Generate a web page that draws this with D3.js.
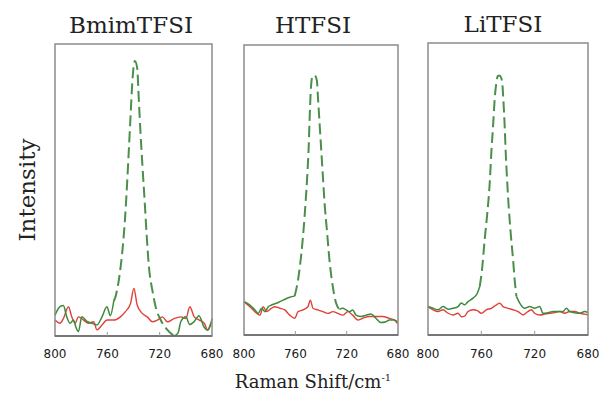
<!DOCTYPE html>
<html>
  <head>
    <meta charset='utf-8'>
    <script src='https://d3js.org/d3.v7.min.js'></script>
    <style>
body { margin: 0; background: #fff; }
.tick-label { font-family: 'DejaVu Sans', sans-serif; font-size: 12px; fill: #1a1a1a; }
.serif { font-family: 'DejaVu Serif', serif; fill: #222; }
    </style>
  </head>
  <body>
    <div id='chart'></div>
    <script>
        // ---- data (Raman shift cm-1, relative intensity) ----
        const titles = ['BmimTFSI', 'HTFSI', 'LiTFSI'];
        const xTicks = [800, 760, 720, 680];

        const bmimGreen = [[800,7.2],[796.2,10.1],[793.6,10.5],[791,6.6],[788.5,4.4],[785.9,5.5],[784,3],[782.1,1.5],
            [779.5,6.6],[775.6,5],[771.8,4.4],[767.9,3.8],[764.1,6.6],[760.3,10.1],[757.7,7],[755.1,12],[753.8,13.5],
            [750.5,21.5],[748.2,30.7],[746.4,41],[744.9,52.5],[743.6,63.9],[742.3,75.4],[741,86.8],[739,94.8],
            [737.2,92.5],[735.9,81.1],[734.6,69.7],[733.1,58.2],[731.5,46.7],[730,35.3],[728.2,23.8],[725.6,15.8],
            [723.1,10.1],[719.2,5.5],[714.1,2.1],[709,0],[706,1],[703.8,5],[700,6.6],[697,4],[693.6,5],[690,7],
            [686,3],[683.3,2],[681,4],[680,6]];
        const bmimRed = [[800,5.5],[796.2,4.4],[793.6,6],[789.7,10.1],[787.2,6.6],[784.6,4.4],[782.1,6.6],[778.2,5.5],
            [774.4,4.4],[770.5,4.9],[767.9,2.1],[764.1,3.8],[760.3,5.5],[755.1,5.5],[750,6.6],[746.2,8.4],[742.3,11.2],
            [739.7,16.4],[737.2,10.7],[733.3,7.8],[729.5,6.6],[725.6,4.9],[721.8,5.5],[717.9,6.6],[714.1,4.9],[709,6],
            [703.8,6.6],[700,6],[696.9,10.1],[693.6,6.6],[689.7,5.5],[685.9,4.4],[683.3,2.1],[680.8,4.4],[680,4.9]];

        const htfsiGreen = [[800,11.6],[795.4,10.4],[791.5,8.7],[788.9,7.5],[786.3,9.3],[783.7,8.1],[781.1,9.8],
            [778.5,10.4],[774.7,11],[769.5,12.1],[764.4,13.1],[760.5,13.5],[757.9,19.1],[755.3,28.3],[753.5,37],
            [751.9,46.8],[750.6,56.1],[749.6,65.3],[748.9,74.6],[748.1,83.8],[746.8,89.6],[745,90.2],[743.2,88.4],
            [742.4,82.7],[741.1,73.4],[739.8,64.2],[738.5,54.9],[737.2,45.7],[735.4,36.4],[733.4,26],[730.8,16.8],
            [728.2,11],[725.6,8.9],[723,9.3],[720.4,8.7],[717.9,8.1],[715.3,8.7],[712.7,6.9],[708.8,6.4],[704.9,6.9],
            [701,7.3],[697.2,5.8],[693.3,4.3],[689.4,4.6],[686.8,5.2],[682.9,5.2],[680.4,4.6]];
        const htfsiRed = [[800,11.6],[795.4,9.8],[791.5,8.1],[787.6,6.9],[785,9.8],[782.4,8.1],[778.5,9.3],[776,9.8],
            [772.1,9.3],[768.2,8.7],[764.4,6.9],[760.5,5.8],[757.9,8.1],[754,8.7],[750.2,9.8],[748.3,12.1],[746.3,9.3],
            [742.4,8.7],[738.5,8.1],[734.6,7.5],[730.8,8.1],[726.9,7.5],[723,6.9],[719.1,8.1],[715.3,6.9],[711.4,5.2],
            [707.5,5.8],[702.4,6.4],[697.2,6.4],[692,6.4],[686.8,5.8],[682.9,5.2],[680.4,4]];

        const litfsiGreen = [[800,9.8],[796.2,9.2],[792.5,8.7],[788.7,9.8],[785,8.9],[781.2,9.2],[777.5,9.8],[775,11],
            [772.5,10.4],[770,11.5],[766.2,12.7],[763,14.4],[761.2,16.7],[759.5,22.5],[757.5,32.9],[755.5,42.1],
            [753.7,52.5],[752.5,62.9],[751.2,72.1],[750,81.3],[748.7,87.1],[747.5,89.4],[746.2,89.4],[744.5,87.6],
            [743.5,81.3],[742.5,72.1],[741.7,62.9],[740.7,53.6],[739.5,44.4],[738,35.2],[736.2,26],[735,19],
            [733.7,13.3],[731.2,11],[727.5,9.2],[723.7,9.8],[720,9.2],[716.2,9.8],[713.7,7.5],[710,7.7],[706.2,8.1],
            [702.5,8.1],[698.7,8.1],[696.2,9.2],[693.7,8.1],[690,7.7],[686.2,7.5],[682.5,8.1],[680,7.7]];
        const litfsiRed = [[800,9.8],[796.2,8.7],[792.5,8.1],[788.7,8.7],[785,7.5],[781.2,6.9],[777.5,7.5],[775,6.3],
            [772.5,6.5],[770,8.1],[766.2,8.7],[763,8.4],[760,7.5],[756.2,8.7],[752.5,9.2],[748.7,10.4],[746.2,11],
            [743.7,9.8],[740,9.2],[736.2,8.7],[732.5,8.1],[728.7,6.9],[725,8.1],[722.5,8.7],[720,7.5],[716.2,6.9],
            [712.5,7.2],[708.7,7.5],[705,7.7],[701.2,8.1],[697.5,7.5],[693.7,8.1],[690,8.1],[686.2,7.5],[682.5,7.2],
            [680,6.9]];

        // part of each green trace that is drawn dashed (high, low shift)
        const peakBands = [[755.1, 709], [760.5, 725.6], [761.2, 733.7]];

        const greens = [bmimGreen, htfsiGreen, litfsiGreen];
        const reds = [bmimRed, htfsiRed, litfsiRed];

        // ---- layout ----
        const width = 600, height = 394;
        const panels = [
            { left: 55, right: 212, top: 44, bottom: 336, titleX: 131, titleY: 33 },
            { left: 244, right: 398, top: 45, bottom: 335, titleX: 313, titleY: 33 },
            { left: 428, right: 588, top: 43, bottom: 335, titleX: 503, titleY: 32 }
        ];

        const svg = d3.select('#chart').append('svg')
            .attr('width', width)
            .attr('height', height);

        panels.forEach(function(p, i) {
            const x = d3.scaleLinear().domain([800, 680]).range([p.left, p.right]);
            const y = d3.scaleLinear().domain([0, 100]).range([p.bottom, p.top + 2]);
            const g = svg.append('g');

            const line = d3.line()
                .x(d => x(d[0]))
                .y(d => y(d[1]))
                .curve(d3.curveMonotoneX);

            const band = peakBands[i];
            const gr = greens[i];
            const leftPart = gr.filter(d => d[0] >= band[0]);
            const peakPart = gr.filter(d => d[0] <= band[0] && d[0] >= band[1]);
            const rightPart = gr.filter(d => d[0] <= band[1]);

            // red trace
            g.append('path')
                .datum(reds[i])
                .attr('d', line)
                .attr('fill', 'none')
                .attr('stroke', '#e0413a')
                .attr('stroke-width', 1.4);

            [leftPart, rightPart].forEach(function(part) {
                g.append('path')
                    .datum(part)
                    .attr('d', line)
                    .attr('fill', 'none')
                    .attr('stroke', '#3d8a3d')
                    .attr('stroke-width', 1.5);
            });

            g.append('path')
                .datum(peakPart)
                .attr('d', line)
                .attr('fill', 'none')
                .attr('stroke', '#4a8f4a')
                .attr('stroke-width', 2)
                .attr('stroke-dasharray', '11,5');

            // frame
            g.append('rect')
                .attr('x', p.left)
                .attr('y', p.top)
                .attr('width', p.right - p.left)
                .attr('height', p.bottom - p.top)
                .attr('fill', 'none')
                .attr('stroke', '#8c8c8c')
                .attr('stroke-width', 1.5);

            g.append('line')
                .attr('x1', p.left).attr('x2', p.right)
                .attr('y1', p.bottom).attr('y2', p.bottom)
                .attr('stroke', '#666')
                .attr('stroke-width', 1.5);

            // inner ticks
            g.selectAll('.tk')
                .data(xTicks.slice(1, 3))
                .enter().append('line')
                .attr('x1', d => x(d)).attr('x2', d => x(d))
                .attr('y1', p.bottom).attr('y2', p.bottom - 4)
                .attr('stroke', '#999')
                .attr('stroke-width', 1);

            g.selectAll('.tick-label')
                .data(xTicks)
                .enter().append('text')
                .attr('class', 'tick-label')
                .attr('x', d => x(d))
                .attr('y', 358)
                .attr('text-anchor', 'middle')
                .text(d => d);

            svg.append('text')
                .attr('class', 'serif')
                .attr('x', p.titleX)
                .attr('y', p.titleY)
                .attr('text-anchor', 'middle')
                .style('font-size', '23px')
                .text(titles[i]);
        });

        svg.append('text')
            .attr('class', 'serif')
            .attr('transform', 'translate(35,190) rotate(-90)')
            .attr('text-anchor', 'middle')
            .style('font-size', '23px')
            .text('Intensity');

        const xl = svg.append('text')
            .attr('class', 'serif')
            .attr('x', 313)
            .attr('y', 388)
            .attr('text-anchor', 'middle')
            .style('font-size', '18px');
        xl.append('tspan').text('Raman Shift/cm');
        xl.append('tspan').attr('dy', -7).style('font-size', '10px').text('-1');
    </script>
  </body>
</html>
